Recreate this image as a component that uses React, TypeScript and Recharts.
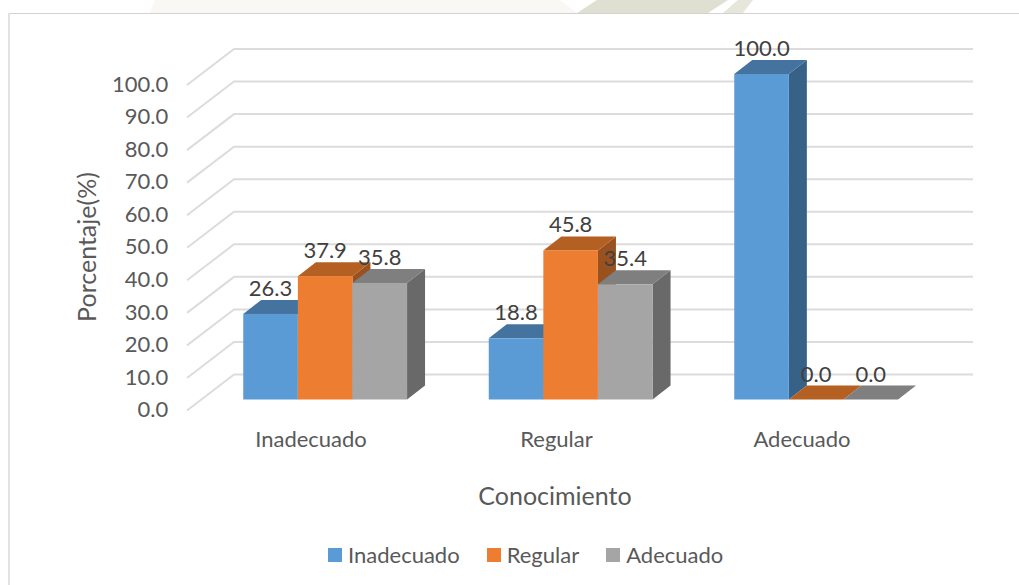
import React from 'react';
import { BarChart, Bar, XAxis, YAxis, CartesianGrid, Legend, LabelList, Label } from 'recharts';

const categories = ['Inadecuado', 'Regular', 'Adecuado'];
const inadecuado = [26.3, 18.8, 100.0];
const regular = [37.9, 45.8, 0.0];
const adecuado = [35.8, 35.4, 0.0];
const yTicks = [0, 10, 20, 30, 40, 50, 60, 70, 80, 90, 100];

const chartData = categories.map((name, i) => ({
    name,
    Inadecuado: inadecuado[i],
    Regular: regular[i],
    Adecuado: adecuado[i],
}));

const FONT = 'Lato, sans-serif';
const DEPTH_X = 18;
const DEPTH_Y = 14;

// front bar with the top and side faces of the 3D look
const makeBox = (topFill: string, sideFill: string) => (props: any) => {
    const { x, y, width, height, fill } = props;
    const r = x + width;
    const b = y + height;
    return (
        <g>
            <polygon points={`${r},${y} ${r + DEPTH_X},${y - DEPTH_Y} ${r + DEPTH_X},${b - DEPTH_Y} ${r},${b}`} fill={sideFill} />
            <polygon points={`${x},${y} ${x + DEPTH_X},${y - DEPTH_Y} ${r + DEPTH_X},${y - DEPTH_Y} ${r},${y}`} fill={topFill} />
            <rect x={x} y={y} width={width} height={height} fill={fill} />
        </g>
    );
};

// wall and floor line for one grid level
const WallLine = (props: any) => {
    const y = props.y1 - 25;
    return <path d={`M187,${y + 36} L234,${y} L973,${y}`} fill="none" stroke="#dcdcdc" strokeWidth={2} />;
};

const YTick = ({ x, y, payload }: any) => (
    <text x={x} y={y + 10} dy="0.35em" textAnchor="end" fontFamily={FONT} fontSize={22} fill="#595959">
        {payload.value.toFixed(1)}
    </text>
);

const XTick = ({ x, y, payload }: any) => (
    <text x={x - 14} y={y} dy="0.35em" textAnchor="middle" fontFamily={FONT} fontSize={22} fill="#595959">
        {payload.value}
    </text>
);

const AxisTitle = ({ x, y, angle, text }: any) => (
    <text
        x={x}
        y={y}
        dy="0.35em"
        transform={angle ? `rotate(${angle} ${x} ${y})` : undefined}
        textAnchor="middle"
        fontFamily={FONT}
        fontSize={25}
        fill="#595959"
    >
        {text}
    </text>
);

const LegendRow = ({ payload }: any) => (
    <div style={{ display: 'flex', fontFamily: FONT, fontSize: 22, color: '#595959', lineHeight: '24px' }}>
        {payload.map((entry: any) => (
            <div key={entry.value} style={{ display: 'flex', alignItems: 'center', marginRight: 27 }}>
                <span style={{ width: 14, height: 14, background: entry.color, marginRight: 6 }} />
                {entry.value}
            </div>
        ))}
    </div>
);

const labelProps = {
    position: 'top' as const,
    offset: 18,
    fontFamily: FONT,
    fontSize: 22,
    fill: '#404040',
    formatter: (v: any) => Number(v).toFixed(1),
};

export default function App() {
    return (
        <div style={{ position: 'absolute', left: 0, top: 0, width: 1019, height: 585, background: '#fff', overflow: 'hidden' }}>
            {/* faint page print above the frame */}
            <svg width={1019} height={13} style={{ position: 'absolute', left: 0, top: 0 }}>
                <polygon points="150,13 155,0 560,0 577,13" fill="#f9f8f5" />
                <polygon points="577,13 597,0 728,0 708,13" fill="#e0e0d2" />
                <polygon points="723,13 738,0 753,0 743,13" fill="#e6e6da" />
            </svg>
            <div style={{ position: 'absolute', left: 8, top: 13, right: 0, height: 1, background: '#d2d2d2' }} />
            <div style={{ position: 'absolute', left: 8, top: 13, bottom: 0, width: 2, background: '#e2e2e2' }} />
            <BarChart
                width={1019}
                height={585}
                data={chartData}
                margin={{ top: 74, right: 80.25, bottom: 155.5, left: 142.25 }}
                barGap={0}
                barSize={54.6}
                style={{ position: 'absolute', left: 0, top: 0 }}
            >
                <CartesianGrid vertical={false} horizontal={(props: any) => <WallLine key={props.key} {...props} />} />
                <XAxis dataKey="name" axisLine={false} tickLine={false} tickMargin={34} tick={<XTick />}>
                    <Label content={() => <AxisTitle x={555} y={496} text="Conocimiento" />} />
                </XAxis>
                <YAxis
                    width={60}
                    domain={[0, 100]}
                    ticks={yTicks}
                    interval={0}
                    axisLine={false}
                    tickLine={false}
                    tickMargin={28}
                    tick={<YTick />}
                >
                    <Label content={() => <AxisTitle x={87} y={247} angle={-90} text="Porcentaje(%)" />} />
                </YAxis>
                <Legend
                    layout="horizontal"
                    verticalAlign="middle"
                    itemSorter={null}
                    content={<LegendRow />}
                    wrapperStyle={{ position: 'absolute', left: 328, top: 543, width: 'auto' }}
                />
                <Bar dataKey="Inadecuado" fill="#5b9bd5" isAnimationActive={false} shape={makeBox('#44739f', '#386188')}>
                    <LabelList dataKey="Inadecuado" {...labelProps} />
                </Bar>
                <Bar dataKey="Regular" fill="#ed7d31" isAnimationActive={false} shape={makeBox('#b56023', '#99511f')}>
                    <LabelList dataKey="Regular" {...labelProps} />
                </Bar>
                <Bar dataKey="Adecuado" fill="#a5a5a5" isAnimationActive={false} shape={makeBox('#7f7f7f', '#696969')}>
                    <LabelList dataKey="Adecuado" {...labelProps} />
                </Bar>
            </BarChart>
        </div>
    );
}
